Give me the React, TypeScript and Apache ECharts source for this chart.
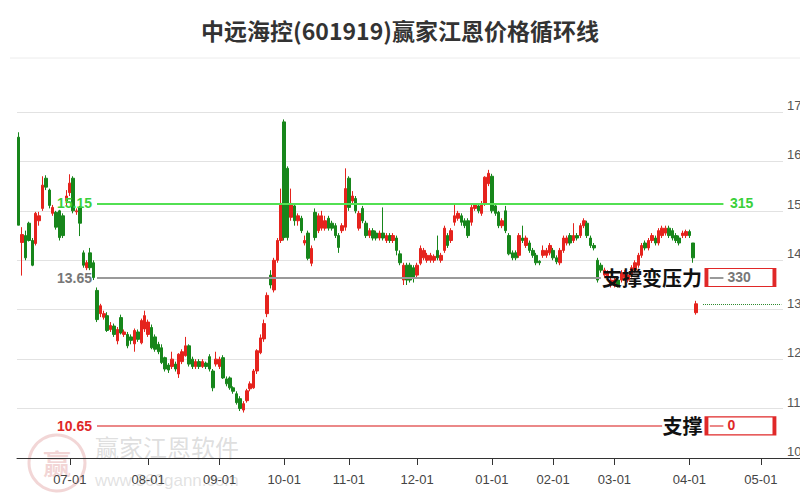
import React, { useEffect, useRef } from 'react';
import * as echarts from 'echarts';

const TITLE = '中远海控(601919)赢家江恩价格循环线';

// trading-day slots per calendar month shown on the axis (Jun partial ... May partial)
const MONTH_KEYS = ['06', '07', '08', '09', '10', '11', '12', '01', '02', '03', '04', '05'];
const MONTH_DAYS = [15, 23, 21, 19, 19, 20, 22, 18, 18, 22, 21, 7];

// candles: [open, close, low, high]
const JUN = [
  [16.49, 14.71, 14.71, 16.59], [14.36, 14.52, 13.69, 14.67], [14.5, 14.05, 14.0, 14.6], [14.75, 14.4, 14.38, 14.78],
  [14.4, 13.9, 13.88, 14.45], [14.34, 14.95, 14.3, 14.98], [14.8, 14.9, 14.7, 14.98], [15.05, 15.52, 15.0, 15.7],
  [15.66, 15.48, 15.42, 15.72], [15.42, 15.11, 15.05, 15.45], [14.95, 15.07, 14.9, 15.12], [14.97, 14.67, 14.62, 15.0],
  [15.0, 14.46, 14.4, 15.02], [14.9, 14.5, 14.45, 14.95], [15.2, 15.3, 15.1, 15.42],
];
const JUL = [
  [15.37, 15.56, 15.3, 15.74], [15.66, 15.0, 14.95, 15.7], [14.98, 15.0, 14.92, 15.05], [15.07, 14.75, 14.49, 15.1],
  [14.15, 13.9, 13.85, 14.2], [13.85, 13.95, 13.8, 14.0], [14.15, 13.85, 13.8, 14.25], [13.95, 13.65, 13.6, 14.0],
  [13.39, 12.8, 12.75, 13.45], [12.92, 13.08, 12.85, 13.12], [12.85, 12.92, 12.8, 12.98], [12.88, 12.58, 12.55, 12.95],
  [12.6, 12.68, 12.55, 12.75], [12.67, 12.5, 12.45, 12.72], [12.37, 12.6, 12.3, 12.65], [12.84, 12.53, 12.5, 12.9],
  [12.5, 12.55, 12.45, 12.6], [12.5, 12.27, 12.22, 12.55], [12.45, 12.38, 12.3, 12.5], [12.31, 12.58, 12.15, 12.62],
  [12.55, 12.4, 12.35, 12.6], [12.33, 12.78, 12.3, 12.82], [12.61, 12.88, 12.55, 12.98],
];
const AUG = [
  [12.5, 12.75, 12.45, 12.8], [12.64, 12.23, 12.2, 12.7], [12.45, 12.2, 12.15, 12.5], [12.3, 12.15, 12.1, 12.35],
  [12.23, 11.93, 11.9, 12.3], [12.03, 11.8, 11.75, 12.05], [11.88, 11.78, 11.72, 11.92], [11.85, 12.0, 11.8, 12.15],
  [11.9, 11.8, 11.75, 11.95], [11.7, 12.1, 11.62, 12.12], [11.95, 12.15, 11.9, 12.2], [12.07, 12.27, 12.05, 12.45],
  [12.27, 11.9, 11.85, 12.3], [12.0, 11.85, 11.8, 12.05], [11.85, 11.95, 11.8, 12.0], [11.95, 11.85, 11.8, 12.0],
  [11.85, 11.95, 11.82, 12.0], [11.92, 11.85, 11.8, 11.95], [12.05, 11.8, 11.75, 12.1], [11.76, 11.42, 11.35, 11.8],
  [11.9, 12.0, 11.85, 12.15],
];
const SEP = [
  [11.85, 12.0, 11.8, 12.05], [12.03, 11.62, 11.6, 12.08], [11.6, 11.5, 11.45, 11.65], [11.62, 11.42, 11.38, 11.65],
  [11.42, 11.35, 11.3, 11.45], [11.3, 11.12, 11.08, 11.35], [11.2, 11.0, 10.95, 11.25], [10.97, 11.1, 10.92, 11.15],
  [11.16, 11.36, 11.12, 11.4], [11.4, 11.5, 11.35, 11.55], [11.42, 11.76, 11.4, 11.8], [11.76, 12.17, 11.7, 12.2],
  [12.13, 12.43, 12.1, 12.5], [12.41, 12.72, 12.35, 12.8], [12.92, 13.29, 12.85, 13.35], [13.7, 13.5, 13.43, 13.8],
  [13.4, 14.0, 13.35, 14.05], [14.0, 14.4, 13.95, 14.45], [14.4, 15.15, 14.35, 15.45],
];
const OCT = [
  [16.8, 14.46, 14.4, 16.85], [15.86, 14.46, 14.4, 15.9], [14.87, 15.15, 14.8, 15.45], [15.1, 14.8, 14.7, 15.15],
  [14.8, 14.9, 14.7, 14.95], [14.85, 14.6, 14.55, 14.9], [14.35, 14.4, 14.3, 14.5], [14.55, 14.04, 14.0, 14.6],
  [13.94, 14.24, 13.88, 14.3], [14.97, 14.46, 14.4, 15.05], [14.6, 14.9, 14.55, 14.95], [14.65, 14.9, 14.6, 15.0],
  [14.65, 14.8, 14.6, 14.9], [14.85, 14.65, 14.6, 14.9], [14.75, 14.65, 14.6, 14.8], [14.7, 14.5, 14.45, 14.75],
  [14.5, 14.26, 14.15, 14.55], [14.6, 14.7, 14.55, 14.75], [14.67, 15.45, 14.6, 15.86],
];
const NOV = [
  [15.66, 15.07, 15.0, 15.7], [15.2, 15.3, 15.15, 15.4], [15.25, 15.0, 14.95, 15.3], [14.65, 14.95, 14.6, 15.0],
  [15.05, 14.8, 14.75, 15.1], [14.75, 14.5, 14.45, 14.8], [14.5, 14.6, 14.45, 14.65], [14.6, 14.45, 14.4, 14.65],
  [14.55, 14.45, 14.4, 14.6], [14.45, 14.55, 14.4, 14.6], [14.55, 14.45, 14.4, 15.07], [14.4, 14.5, 14.35, 14.55],
  [14.5, 14.4, 14.35, 14.55], [14.4, 14.5, 14.35, 14.55], [14.45, 14.2, 14.1, 14.5], [14.13, 13.95, 13.9, 14.2],
  [13.6, 13.9, 13.5, 13.95], [13.9, 13.6, 13.5, 13.95], [13.9, 13.6, 13.55, 13.95], [13.85, 13.65, 13.55, 13.9],
];
const DEC = [
  [13.7, 13.9, 13.65, 13.95], [13.94, 14.24, 13.9, 14.3], [14.05, 14.2, 14.0, 14.25], [14.0, 14.1, 13.95, 14.15],
  [14.0, 14.1, 13.95, 14.15], [14.0, 14.08, 13.95, 14.12], [14.2, 14.05, 14.0, 14.5], [14.0, 14.1, 13.95, 14.15],
  [14.2, 14.65, 14.15, 14.7], [14.5, 14.3, 14.25, 14.55], [14.4, 14.6, 14.35, 14.65], [14.77, 14.9, 14.7, 15.15],
  [14.85, 14.95, 14.8, 15.0], [14.9, 14.77, 14.7, 14.95], [14.8, 14.7, 14.65, 14.85], [14.8, 14.5, 14.45, 14.85],
  [14.77, 15.07, 14.7, 15.12], [15.05, 15.12, 15.0, 15.15], [15.1, 15.0, 14.95, 15.15], [14.95, 15.15, 14.9, 15.2],
  [15.15, 15.68, 15.1, 15.7], [15.55, 15.76, 15.5, 15.83],
];
const JAN = [
  [15.7, 15.0, 14.95, 15.75], [15.1, 14.95, 14.9, 15.15], [14.97, 14.7, 14.65, 15.0], [14.7, 14.8, 14.65, 14.85],
  [15.0, 14.6, 14.55, 15.1], [14.5, 14.13, 14.1, 14.55], [14.15, 14.05, 14.0, 14.2], [14.15, 14.05, 14.0, 14.2],
  [14.1, 14.5, 14.05, 14.55], [14.45, 14.4, 14.35, 14.7], [14.3, 14.45, 14.25, 14.5], [14.35, 14.2, 14.15, 14.4],
  [14.2, 14.1, 14.05, 14.25], [14.1, 13.95, 13.9, 14.15], [13.98, 13.95, 13.9, 14.0], [14.1, 14.2, 14.05, 14.3],
  [14.1, 14.2, 14.05, 14.25], [14.15, 14.3, 14.1, 14.35],
];
const FEB = [
  [14.2, 14.05, 14.0, 14.25], [14.05, 13.97, 13.92, 14.1], [13.95, 14.2, 13.9, 14.25], [14.2, 14.45, 14.15, 14.5],
  [14.35, 14.45, 14.3, 14.5], [14.5, 14.35, 14.3, 14.55], [14.4, 14.5, 14.35, 14.75], [14.5, 14.45, 14.4, 14.55],
  [14.5, 14.7, 14.45, 14.75], [14.7, 14.8, 14.65, 14.85], [14.75, 14.5, 14.45, 14.8], [14.45, 14.3, 14.25, 14.5],
  [14.3, 14.25, 14.2, 14.35], [14.0, 13.6, 13.55, 14.05], [13.9, 13.8, 13.75, 13.95], [13.7, 13.8, 13.65, 13.85],
  [13.65, 13.75, 13.6, 13.8], [13.5, 13.6, 13.45, 13.65],
];
const MAR = [
  [13.5, 13.6, 13.45, 13.65], [13.6, 13.5, 13.45, 13.65], [13.6, 13.75, 13.55, 13.8], [13.65, 13.75, 13.6, 13.8],
  [13.6, 13.7, 13.55, 13.75], [13.7, 13.85, 13.65, 13.9], [13.8, 13.95, 13.75, 14.0], [13.9, 14.1, 13.85, 14.15],
  [14.1, 14.3, 14.05, 14.35], [14.35, 14.25, 14.2, 14.4], [14.25, 14.4, 14.2, 14.45], [14.4, 14.5, 14.35, 14.55],
  [14.45, 14.35, 14.3, 14.5], [14.35, 14.6, 14.3, 14.65], [14.5, 14.65, 14.45, 14.7], [14.55, 14.65, 14.5, 14.7],
  [14.65, 14.5, 14.45, 14.7], [14.6, 14.45, 14.4, 14.65], [14.5, 14.4, 14.35, 14.55], [14.45, 14.35, 14.3, 14.5],
  [14.5, 14.55, 14.45, 14.6], [14.5, 14.58, 14.45, 14.62],
];
const APR = [
  [14.58, 14.5, 14.45, 14.62], [14.35, 14.05, 13.95, 14.35], [12.94, 13.12, 12.9, 13.18],
];

const LAST_CLOSE = 13.12;
const LEVEL_GREEN = 15.15;
const LEVEL_GRAY = 13.65;
const LEVEL_RED = 10.65;
const ANGLE_GREEN = '315';
const ANGLE_GRAY = '330';
const ANGLE_RED = '0';
const TEXT_GRAY = '支撑变压力';
const TEXT_RED = '支撑';

const Y_MIN = 10;
const Y_MAX = 17;

const RED = '#e5231d';
const GREEN = '#17861b';

export default function App() {
  const ref = useRef<HTMLDivElement>(null);

  useEffect(() => {
    document.body.style.margin = '0';
    if (!ref.current) return;
    const chart = echarts.init(ref.current, undefined, { renderer: 'svg' });

    const categories: string[] = [];
    MONTH_KEYS.forEach((m, i) => {
      for (let d = 1; d <= MONTH_DAYS[i]; d++) categories.push(`${m}#${d}`);
    });
    const isMonthStart = (v: string) => v.endsWith('#1') && !v.startsWith('06');
    const candles = [...JUN, ...JUL, ...AUG, ...SEP, ...OCT, ...NOV, ...DEC, ...JAN, ...FEB, ...MAR, ...APR];
    const lastIdx = candles.length - 1;
    const endIdx = categories.length - 1;

    const lineStart = 23;
    const lineEnd = 207;
    const boxIdx = 212;

    const seg = (a: number, b: number, v: number, style: any, label?: any) => [
      { coord: [a, v], lineStyle: style, label: label || { show: false } },
      { coord: [b, v] },
    ];
    const startLabel = (text: string, color: string) => ({
      show: true,
      position: 'start',
      distance: 5,
      formatter: text,
      color,
      fontSize: 14,
      fontWeight: 'bold',
      fontFamily: 'Arial',
    });

    const greenStyle = { color: '#52e052', width: 2, type: 'solid' };
    const grayStyle = { color: '#9a9a9a', width: 2, type: 'solid' };
    const redStyle = { color: '#e46060', width: 1.5, type: 'solid' };
    const lastStyle = { color: '#2d8a2d', width: 1, type: 'dotted' };

    const boxPoint = (v: number, text: string, color: string) => ({
      coord: [boxIdx, v],
      symbol: 'rect',
      symbolSize: [68, 18],
      itemStyle: { color: 'rgba(0,0,0,0)', borderColor: '#e02828', borderWidth: 2 },
      label: {
        show: true,
        formatter: text,
        position: [23, 9],
        align: 'left',
        verticalAlign: 'middle',
        color,
        fontSize: 14,
        fontWeight: 'bold',
        fontFamily: 'Arial',
      },
    });
    const textPoint = (idx: number, v: number, text: string, extra: any) => ({
      coord: [idx, v],
      symbol: 'rect',
      symbolSize: [1, 1],
      itemStyle: { color: 'rgba(0,0,0,0)' },
      label: { show: true, formatter: text, ...extra },
    });

    chart.setOption({
      animation: false,
      title: {
        text: TITLE,
        left: 'center',
        top: 13,
        textStyle: { fontSize: 23, fontWeight: 'bold', color: '#333', fontFamily: 'Noto Sans CJK SC' },
      },
      grid: { left: 17, right: 17, top: 112, bottom: 42, containLabel: false, outerBoundsMode: 'none' },
      graphic: [
        { type: 'line', shape: { x1: 10, y1: 58, x2: 800, y2: 58 }, style: { stroke: '#ececec', lineWidth: 1 }, silent: true },
        { type: 'circle', shape: { cx: 57, cy: 463, r: 28 }, style: { fill: 'none', stroke: 'rgba(205,90,90,0.25)', lineWidth: 3 }, silent: true, z: -1 },
        { type: 'text', x: 57, y: 463, style: { text: '赢', fill: 'rgba(205,90,90,0.25)', font: 'bold 28px "Noto Sans CJK SC"', align: 'center', verticalAlign: 'middle' }, silent: true, z: -1 },
        { type: 'text', x: 95, y: 434, style: { text: '赢家江恩软件', fill: 'rgba(170,170,170,0.4)', font: '24px "Noto Sans CJK SC"' }, silent: true, z: -1 },
        { type: 'text', x: 95, y: 472, style: { text: 'www.360gann.com', fill: 'rgba(170,170,170,0.35)', font: '17px Arial' }, silent: true, z: -1 },
        { type: 'line', shape: { x1: 783, y1: 458.5, x2: 800, y2: 458.5 }, style: { stroke: '#333', lineWidth: 1 }, silent: true },
      ],
      xAxis: {
        type: 'category',
        data: categories,
        boundaryGap: true,
        axisLine: { lineStyle: { color: '#333', width: 1 } },
        axisTick: { show: true, alignWithLabel: true, length: 7, interval: (_i: number, v: string) => isMonthStart(v), lineStyle: { color: '#333' } },
        axisLabel: {
          interval: (_i: number, v: string) => isMonthStart(v),
          formatter: (v: string) => `${v.split('#')[0]}-01`,
          color: '#444',
          fontSize: 13,
          fontFamily: 'Arial',
          margin: 15,
        },
        splitLine: { show: false },
      },
      yAxis: {
        type: 'value',
        position: 'right',
        min: Y_MIN,
        max: Y_MAX,
        interval: 1,
        axisLine: { show: false },
        axisTick: { show: false },
        axisLabel: { color: '#555', fontSize: 13, fontFamily: 'Arial', margin: 4, verticalAlign: 'bottom' },
        splitLine: { lineStyle: { color: '#e2e2e2', width: 1 } },
      },
      series: [
        {
          type: 'line',
          data: [],
          z: 1,
          markLine: {
            silent: true,
            symbol: ['none', 'none'],
            data: [
              seg(lineStart, lineEnd, LEVEL_GREEN, greenStyle, startLabel(String(LEVEL_GREEN), '#3ad03a')),
              seg(lineStart, 171, LEVEL_GRAY, grayStyle, startLabel(String(LEVEL_GRAY), '#777')),
              seg(203, lineEnd, LEVEL_GRAY, grayStyle),
              seg(lineStart, 189, LEVEL_RED, redStyle, startLabel(String(LEVEL_RED), '#e02828')),
              seg(203, lineEnd, LEVEL_RED, redStyle),
              seg(lastIdx + 2, endIdx, LAST_CLOSE, lastStyle),
            ],
          },
        },
        {
          type: 'candlestick',
          data: candles,
          z: 2,
          barWidth: 3,
          itemStyle: { color: RED, color0: GREEN, borderColor: RED, borderColor0: GREEN, borderWidth: 1 },
          markPoint: {
            silent: true,
            data: [
              boxPoint(LEVEL_GRAY, ANGLE_GRAY, '#777'),
              boxPoint(LEVEL_RED, ANGLE_RED, '#e02828'),
              textPoint(lineEnd, LEVEL_GREEN, ANGLE_GREEN, { position: 'right', distance: 6, color: '#3ad03a', fontSize: 14, fontWeight: 'bold', fontFamily: 'Arial' }),
              textPoint(186, LEVEL_GRAY, TEXT_GRAY, { position: 'inside', color: '#111', fontSize: 20, fontWeight: 'bold', fontFamily: 'Noto Sans CJK SC' }),
              textPoint(195, LEVEL_RED, TEXT_RED, { position: 'inside', color: '#111', fontSize: 20, fontWeight: 'bold', fontFamily: 'Noto Sans CJK SC' }),
            ],
          },
        },
      ],
    });

    return () => chart.dispose();
  }, []);

  return <div ref={ref} style={{ width: 800, height: 500, position: 'absolute', left: 0, top: 0 }} />;
}
